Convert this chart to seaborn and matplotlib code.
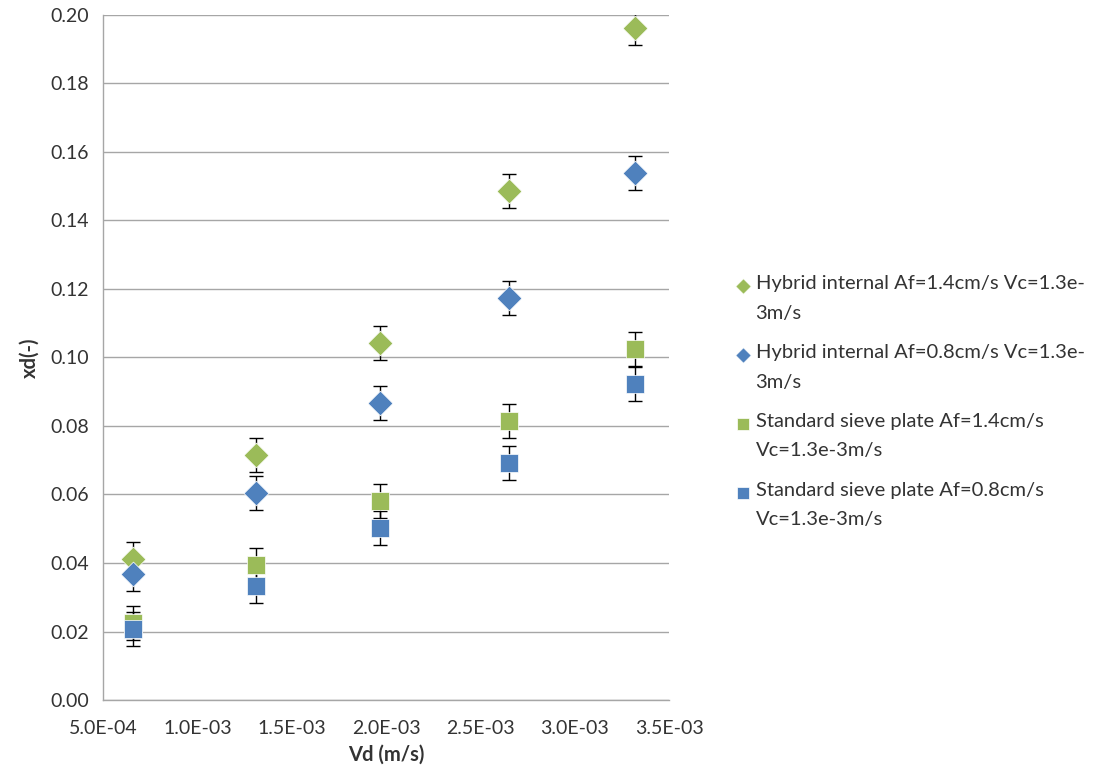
import matplotlib
matplotlib.use("Agg")
import matplotlib.pyplot as plt
import seaborn as sns
import pandas as pd
import numpy as np

vd = [6.6e-4, 1.31e-3, 1.97e-3, 2.65e-3, 3.32e-3]
hyb_14 = [0.0412, 0.0715, 0.1042, 0.1486, 0.1962]
hyb_08 = [0.0368, 0.0604, 0.0867, 0.1174, 0.1539]
std_14 = [0.0225, 0.0394, 0.0581, 0.0815, 0.1025]
std_08 = [0.0207, 0.0333, 0.0502, 0.0692, 0.0923]
err = [0.005, 0.005, 0.005, 0.005, 0.005]
labels = ["Hybrid internal Af=1.4cm/s Vc=1.3e-\n3m/s",
          "Hybrid internal Af=0.8cm/s Vc=1.3e-\n3m/s",
          "Standard sieve plate Af=1.4cm/s\nVc=1.3e-3m/s",
          "Standard sieve plate Af=0.8cm/s\nVc=1.3e-3m/s"]
xticks = [5.0e-4, 1.0e-3, 1.5e-3, 2.0e-3, 2.5e-3, 3.0e-3, 3.5e-3]
yticks = [0.00, 0.02, 0.04, 0.06, 0.08, 0.10, 0.12, 0.14, 0.16, 0.18, 0.20]

green = "#9BBB59"
blue = "#4F81BD"
colors = [green, blue, green, blue]
markers = ["D", "D", "s", "s"]
sizes = [160, 160, 180, 180]

series = [hyb_14, hyb_08, std_14, std_08]
df = pd.concat([pd.DataFrame({"Vd": vd, "xd": s, "err": err, "series": lab})
                for s, lab in zip(series, labels)], ignore_index=True)

sns.set_style("white")
plt.rcParams["font.family"] = ["Lato", "DejaVu Sans"]

fig = plt.figure(figsize=(11.04, 7.77), dpi=100)
ax = fig.add_axes([0.0933, 0.099, 0.5127, 0.882])

for lab, c, m, sz in zip(labels, colors, markers, sizes):
    sub = df[df["series"] == lab]
    ax.errorbar(sub["Vd"], sub["xd"], yerr=sub["err"], fmt="none",
                ecolor="black", elinewidth=1.0, capsize=5, capthick=1.0, zorder=2)
    sns.scatterplot(data=sub, x="Vd", y="xd", color=c, marker=m, s=sz,
                    edgecolor="white", linewidth=0.5, ax=ax, zorder=3, label=lab)

ax.set_xlim(5.0e-4, 3.5e-3)
ax.set_ylim(0, 0.20)
ax.set_xticks(xticks)
ax.set_xticklabels([f"{t:.1E}" for t in xticks])
ax.set_yticks(yticks)
ax.set_yticklabels([f"{t:.2f}" for t in yticks])
ax.yaxis.grid(True, color="#A6A6A6", linewidth=1.0)
ax.xaxis.grid(False)
ax.set_axisbelow(True)
for s in ["top", "right"]:
    ax.spines[s].set_visible(False)
for s in ["left", "bottom"]:
    ax.spines[s].set_color("#A6A6A6")
    ax.spines[s].set_linewidth(1.0)
ax.tick_params(axis="x", which="major", direction="out", length=6, color="#A6A6A6",
               labelsize=14, pad=8, labelcolor="#333333")
ax.tick_params(axis="y", which="major", length=0, labelsize=14, pad=10, labelcolor="#333333")
ax.set_xlabel("Vd (m/s)", fontsize=14.5, fontweight="bold", color="#333333", labelpad=6)
ax.set_ylabel("xd(-)", fontsize=14.5, fontweight="bold", color="#333333", labelpad=8)

ax.get_legend().remove()
handles, labs = ax.get_legend_handles_labels()
leg = fig.legend(handles, labs, loc="upper left", bbox_to_anchor=(0.647, 0.669),
                 frameon=False, fontsize=14.5, labelspacing=1.1, handletextpad=0.05,
                 handlelength=1.1, markerscale=0.62, labelcolor="#333333")
for t in leg.get_texts():
    t.set_linespacing(1.9)
# align each legend marker with the first line of its label
for h in leg.legend_handles:
    off = np.asarray(h.get_offsets(), dtype=float)
    h.set_offsets(off + np.array([0.0, 10.0]))

fig.savefig("out.png", dpi=100)
